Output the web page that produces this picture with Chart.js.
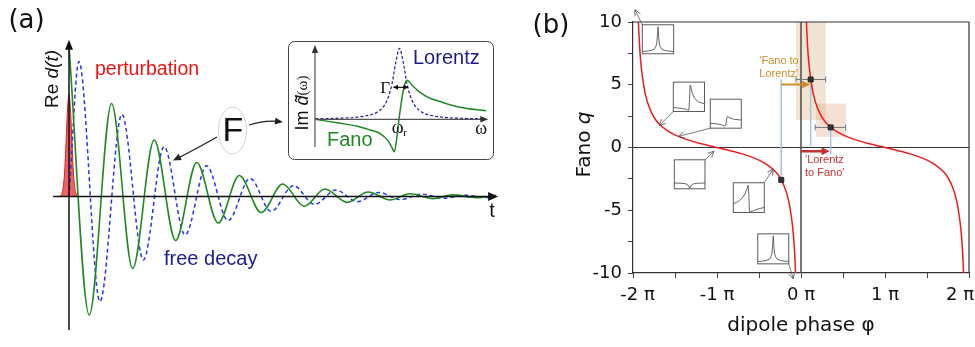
<!DOCTYPE html>
<html><head><meta charset="utf-8">
<script src="https://cdn.jsdelivr.net/npm/chart.js@4/dist/chart.umd.min.js"></script>
<style>
html,body{margin:0;padding:0;background:#fff;overflow:hidden}
#wrap{position:relative;width:975px;height:347px;background:#fff}
canvas{position:absolute}
</style></head><body>
<div id="wrap">
<canvas id="ca" width="510" height="347" style="left:0;top:0;width:510px;height:347px"></canvas>
<canvas id="ci" width="206" height="120" style="left:288px;top:41px;width:206px;height:120px"></canvas>
<canvas id="cb" width="455" height="347" style="left:520px;top:0;width:455px;height:347px"></canvas>
</div>
<script>
// ================= DATA =================
// Panel (a): free-decay oscillations, time in periods, amplitude normalised
const greenT = [0, 0.47, 0.99, 1.48, 1.98, 2.48, 2.97, 3.47, 3.96, 4.47, 4.97, 5.47, 5.95, 6.47, 6.96, 7.47, 7.93, 8.47, 8.93, 9.47, 9.93];
const greenV = [1.0, -0.79, 0.62, -0.48, 0.377, -0.293, 0.227, -0.177, 0.14, -0.107, 0.083, -0.065, 0.05, -0.039, 0.03, -0.023, 0.018, -0.014, 0.011, -0.008, 0.006];
const blueT  = [0, 0.23, 0.72, 1.23, 1.73, 2.21, 2.70, 3.20, 3.70, 4.21, 4.70, 5.22, 5.71, 6.21, 6.70, 7.21, 7.71, 8.21, 8.71, 9.21, 9.71, 9.93];
const blueV  = [0, 0.90, -0.70, 0.548, -0.423, 0.332, -0.257, 0.205, -0.161, 0.121, -0.099, 0.072, -0.052, 0.043, -0.035, 0.027, -0.021, 0.016, -0.012, 0.009, -0.007, 0];
const pulseT = [-0.23, -0.18, -0.14, -0.10, -0.06, -0.03, 0, 0.03, 0.06, 0.10, 0.14, 0.18, 0.23];
const pulseV = [0, 0.01, 0.05, 0.17, 0.42, 0.60, 0.68, 0.60, 0.42, 0.17, 0.05, 0.01, 0];
// Panel (a) inset: line shapes vs detuning (units of half width)
const lorW  = [-11.2, -8, -6, -4, -3, -2, -1.5, -1, -0.5, 0, 0.5, 1, 1.5, 2, 3, 4, 6, 8, 11.5];
const lorV  = [0.008, 0.015, 0.027, 0.06, 0.1, 0.2, 0.31, 0.5, 0.8, 1.0, 0.8, 0.5, 0.31, 0.2, 0.1, 0.06, 0.027, 0.015, 0.007];
const fanoW = [-11.27, -7.93, -5.5, -3.93, -2.6, -1.53, -1.0, -0.69, -0.4, -0.07, 0.33, 0.73, 1.04, 1.67, 2.73, 4, 5.4, 8.07, 11.53];
const fanoV = [0, -0.056, -0.1, -0.15, -0.2, -0.3, -0.4, -0.458, -0.3, 0, 0.3, 0.5, 0.55, 0.48, 0.38, 0.3, 0.25, 0.17, 0.12];
// Panel (b): Fano q vs dipole phase (phase in units of pi)
const phiLeft  = [-1.936, -1.92, -1.9, -1.87, -1.85, -1.8, -1.75, -1.7, -1.6, -1.5, -1.4, -1.3, -1.2, -1.1, -1.0, -0.9, -0.8, -0.7, -0.6, -0.5, -0.4, -0.3, -0.25, -0.2, -0.15, -0.13, -0.1, -0.08, -0.064];
const qLeft    = [10, 7.9, 6.3, 4.85, 4.15, 3.08, 2.41, 1.96, 1.38, 1.0, 0.73, 0.51, 0.32, 0.16, 0, -0.16, -0.32, -0.51, -0.73, -1.0, -1.38, -1.96, -2.41, -3.08, -4.15, -4.85, -6.3, -7.9, -10];
const phiRight = [0.064, 0.08, 0.1, 0.13, 0.15, 0.2, 0.25, 0.3, 0.4, 0.5, 0.6, 0.7, 0.8, 0.9, 1.0, 1.1, 1.2, 1.3, 1.4, 1.5, 1.6, 1.7, 1.75, 1.8, 1.85, 1.87, 1.9, 1.92, 1.936];
const qRight   = [10, 7.9, 6.3, 4.85, 4.15, 3.08, 2.41, 1.96, 1.38, 1.0, 0.73, 0.51, 0.32, 0.16, 0, -0.16, -0.32, -0.51, -0.73, -1.0, -1.38, -1.96, -2.41, -3.08, -4.15, -4.85, -6.3, -7.9, -10];
const measPhi  = [0.115, 0.353, -0.235];
const measQ    = [5.42, 1.6, -2.58];
const errLo    = [-0.06, 0.17, null];
const errHi    = [0.294, 0.532, null];
const phiTickLabels = {'-2': '\u2002-2 \u03c0', '-1': '-1 \u03c0', '0': '0 \u03c0', '1': '1 \u03c0', '2': '2 \u03c0\u2003'};
const qTickLabels   = {'-10': '-10', '-5': '-5', '0': '0', '5': '5', '10': '10'};

// ================= annotation layout (panel b, data units) =================
const shades = [
  {phi: [-0.06, 0.294], q: [2.2, 10], color: 'rgba(222,185,140,0.38)'},
  {phi: [0.18, 0.536], q: [0.85, 3.5], color: 'rgba(226,160,128,0.33)'}
];
const guideLines = [{phi: -0.235, q: [-2.58, 5.42]}, {phi: 0.115, q: [0.08, 5.42]}, {phi: 0.353, q: [-0.56, 1.6]}];
const sketchShapes = {
  lorentz:  {u: [0, 0.15, 0.3, 0.38, 0.43, 0.46, 0.48, 0.5, 0.52, 0.54, 0.57, 0.62, 0.7, 0.85, 1], v: [0.08, 0.09, 0.12, 0.16, 0.24, 0.36, 0.6, 0.93, 0.6, 0.36, 0.24, 0.16, 0.12, 0.09, 0.08]},
  fanoPos:  {u: [0, 0.15, 0.3, 0.42, 0.48, 0.5, 0.52, 0.54, 0.56, 0.6, 0.68, 0.8, 1], v: [0.13, 0.12, 0.1, 0.07, 0.04, 0.04, 0.4, 0.9, 0.85, 0.65, 0.45, 0.33, 0.26]},
  fanoSmall:{u: [0, 0.2, 0.35, 0.45, 0.5, 0.53, 0.56, 0.62, 0.75, 1], v: [0.17, 0.15, 0.12, 0.07, 0.1, 0.33, 0.4, 0.36, 0.31, 0.28]},
  dip:      {u: [0, 0.25, 0.38, 0.44, 0.48, 0.5, 0.52, 0.56, 0.62, 0.75, 1], v: [0.2, 0.19, 0.17, 0.13, 0.06, 0.01, 0.06, 0.13, 0.17, 0.19, 0.2]},
  fanoNeg:  {u: [0, 0.1, 0.2, 0.3, 0.38, 0.44, 0.48, 0.5, 0.52, 0.56, 0.65, 0.8, 1], v: [0.3, 0.34, 0.4, 0.5, 0.63, 0.8, 0.92, 0.6, 0.04, 0.03, 0.06, 0.12, 0.17]}
};
const sketchBoxes = [
  {phi: [-1.889, -1.516], q: [7.47, 9.78],   shape: 'lorentz',   from: 'tl', tip: [-1.976, 10.98]},
  {phi: [-1.520, -1.149], q: [2.87, 5.21],   shape: 'fanoPos',   from: 'bl', tip: [-1.687, 1.75]},
  {phi: [-1.080, -0.711], q: [1.54, 3.85],   shape: 'fanoSmall', from: 'bl', tip: [-1.461, 0.88]},
  {phi: [-1.508, -1.143], q: [-3.29, -0.98], shape: 'dip',       from: 'tr', tip: [-1.036, -0.30]},
  {phi: [-0.806, -0.437], q: [-5.18, -2.81], shape: 'fanoNeg',   from: 'tr', tip: [-0.330, -1.70]},
  {phi: [-0.515, -0.146], q: [-9.27, -6.88], shape: 'lorentz',   from: 'br', tip: [-0.092, -10.47]}
];

// ================= helpers =================
function mk(xs, ys) { return xs.map((v, i) => ({x: v, y: ys[i]})); }
function head(ctx, tx, ty, ang, len, hw, color, open, lw) {
  ctx.save(); ctx.translate(tx, ty); ctx.rotate(ang);
  ctx.beginPath();
  if (open) {
    ctx.moveTo(-len, -hw); ctx.lineTo(0, 0); ctx.lineTo(-len, hw);
    ctx.strokeStyle = color; ctx.lineWidth = lw || 1; ctx.stroke();
  } else {
    ctx.moveTo(0, 0); ctx.lineTo(-len, -hw); ctx.lineTo(-len, hw); ctx.closePath();
    ctx.fillStyle = color; ctx.fill();
  }
  ctx.restore();
}
function arrow(ctx, x0, y0, x1, y1, color, w, len, hw, open) {
  const a = Math.atan2(y1 - y0, x1 - x0);
  const k = open ? 0 : len * 0.7;
  ctx.beginPath(); ctx.moveTo(x0, y0); ctx.lineTo(x1 - k * Math.cos(a), y1 - k * Math.sin(a));
  ctx.strokeStyle = color; ctx.lineWidth = w; ctx.stroke();
  head(ctx, x1, y1, a, len, hw, color, open, w);
}
function mixedText(ctx, parts, cx, cy) {
  let tot = 0; parts.forEach(p => { ctx.font = p.font; p.w = ctx.measureText(p.t).width; tot += p.w; });
  let x = cx - tot / 2; ctx.textAlign = 'left'; ctx.textBaseline = 'middle';
  parts.forEach(p => { ctx.font = p.font; ctx.fillStyle = p.color || '#111'; ctx.fillText(p.t, x, cy + (p.dy || 0)); x += p.w; });
}
const baseOpts = {responsive: false, maintainAspectRatio: false, devicePixelRatio: 1, animation: false, events: []};
const noPlug = {legend: {display: false}, tooltip: {enabled: false}};

// ================= PANEL (a) =================
const pA = {
  id: 'pa',
  afterDatasetsDraw(chart) {
    const {ctx, scales: {x, y}} = chart;
    const X = v => x.getPixelForValue(v), Y = v => y.getPixelForValue(v);
    ctx.save();
    const y0 = Y(0), x0 = X(0);
    // axes
    ctx.strokeStyle = '#111'; ctx.lineWidth = 1.5;
    ctx.beginPath(); ctx.moveTo(X(-0.37), y0); ctx.lineTo(X(9.78), y0); ctx.stroke();
    head(ctx, X(9.98), y0, 0, 10, 4.5, '#111');
    ctx.beginPath(); ctx.moveTo(x0, Y(-0.89)); ctx.lineTo(x0, Y(0.98)); ctx.stroke();
    head(ctx, x0, Y(1.045), -Math.PI / 2, 10, 4, '#111');
    // labels
    ctx.fillStyle = '#111';
    ctx.font = '26px "DejaVu Sans"'; ctx.textAlign = 'center'; ctx.textBaseline = 'middle';
    ctx.fillText('(a)', 26.5, 21);
    ctx.save(); ctx.translate(52.5, 79); ctx.rotate(-Math.PI / 2);
    mixedText(ctx, [{t: 'Re ', font: '19px "Liberation Sans"'}, {t: 'd(t)', font: 'italic 19px "Liberation Sans"'}], 0, 0);
    ctx.restore();
    ctx.textAlign = 'left'; ctx.textBaseline = 'middle';
    ctx.font = '19.5px "Liberation Sans"'; ctx.fillStyle = '#ee1414'; ctx.fillText('perturbation', 95, 70);
    ctx.font = '20px "Liberation Sans"'; ctx.fillStyle = '#1c1c8a'; ctx.fillText('free decay', 164, 259);
    ctx.fillStyle = '#111'; ctx.textAlign = 'center'; ctx.font = '20px "Liberation Sans"'; ctx.fillText('t', 492, 211);
    // Fourier "F" bubble
    ctx.beginPath(); ctx.ellipse(232.5, 130.5, 14, 23.5, 0, 0, 2 * Math.PI);
    ctx.fillStyle = '#fff'; ctx.fill(); ctx.strokeStyle = '#d0d0d0'; ctx.lineWidth = 1; ctx.stroke();
    ctx.fillStyle = '#111'; ctx.font = '34px "Liberation Sans"'; ctx.textAlign = 'center'; ctx.textBaseline = 'middle';
    ctx.fillText('F', 233, 132);
    // curved arrows
    ctx.strokeStyle = '#222'; ctx.lineWidth = 1.3;
    ctx.beginPath(); ctx.moveTo(217, 137); ctx.quadraticCurveTo(196, 149, 178, 158); ctx.stroke();
    head(ctx, 173, 160.5, Math.atan2(160.5 - 149, 173 - 196), 8, 3.5, '#222');
    ctx.beginPath(); ctx.moveTo(249, 125); ctx.quadraticCurveTo(265, 120, 278, 121.5); ctx.stroke();
    head(ctx, 283, 122, Math.atan2(122 - 120, 283 - 265), 8, 3.5, '#222');
    ctx.restore();
  }
};
new Chart(document.getElementById('ca'), {
  type: 'line',
  data: {datasets: [
    {data: mk(greenT, greenV), borderColor: '#1f8a22', borderWidth: 1.6, pointRadius: 0, cubicInterpolationMode: 'monotone', fill: false},
    {data: mk(blueT, blueV), borderColor: '#2536e8', borderWidth: 1.5, borderDash: [4, 3], pointRadius: 0, cubicInterpolationMode: 'monotone', fill: false},
    {data: mk(pulseT, pulseV), borderColor: '#e01b1b', backgroundColor: 'rgba(238,70,70,0.85)', borderWidth: 1, pointRadius: 0, cubicInterpolationMode: 'monotone', fill: 'origin'}
  ]},
  options: Object.assign({}, baseOpts, {
    layout: {padding: 0},
    plugins: noPlug,
    scales: {
      x: {type: 'linear', display: false, min: -1.6047, max: 10.2558},
      y: {type: 'linear', display: false, min: -1.0033, max: 1.31}
    }
  }),
  plugins: [pA]
});

// ================= PANEL (a) inset =================
const pI = {
  id: 'pi',
  beforeDatasetsDraw(chart) {
    const {ctx} = chart;
    ctx.save();
    ctx.fillStyle = '#fff';
    ctx.beginPath(); ctx.roundRect(0.5, 0.5, 205, 118, 6); ctx.fill();
    ctx.restore();
  },
  afterDatasetsDraw(chart) {
    const {ctx, scales: {x, y}} = chart;
    const X = v => x.getPixelForValue(v), Y = v => y.getPixelForValue(v);
    ctx.save();
    ctx.strokeStyle = '#444'; ctx.lineWidth = 1;
    ctx.beginPath(); ctx.roundRect(0.5, 0.5, 205, 118, 6); ctx.stroke();
    // axes
    ctx.strokeStyle = '#555'; ctx.lineWidth = 1.2;
    ctx.beginPath(); ctx.moveTo(X(-11.27), Y(-0.39)); ctx.lineTo(X(-11.27), Y(0.96)); ctx.stroke();
    head(ctx, X(-11.27), Y(1.045), -Math.PI / 2, 8, 3.2, '#333');
    ctx.beginPath(); ctx.moveTo(X(-11.27), Y(0)); ctx.lineTo(X(11.0), Y(0)); ctx.stroke();
    head(ctx, X(11.84), Y(0), 0, 8, 3.2, '#333');
    // Gamma arrow
    const gy = Y(0.45);
    ctx.strokeStyle = '#111'; ctx.lineWidth = 1.2;
    ctx.beginPath(); ctx.moveTo(X(-0.8), gy); ctx.lineTo(X(1.13), gy); ctx.stroke();
    head(ctx, X(-0.87), gy, Math.PI, 5, 2.5, '#111');
    head(ctx, X(1.2), gy, 0, 5, 2.5, '#111');
    ctx.fillStyle = '#111'; ctx.textAlign = 'center'; ctx.textBaseline = 'middle';
    ctx.font = '17px "Liberation Serif"'; ctx.fillText('\u0393', X(-1.9), gy + 1);
    // omega labels
    ctx.font = '18px "Liberation Serif"'; ctx.fillText('\u03c9', X(-0.25), 87);
    ctx.font = '11px "Liberation Serif"'; ctx.fillText('r', X(0.75), 92);
    ctx.font = '18px "Liberation Serif"'; ctx.fillText('\u03c9', X(10.9), 88);
    // text
    ctx.textAlign = 'left';
    ctx.font = '20px "Liberation Sans"'; ctx.fillStyle = '#1c1c8a'; ctx.fillText('Lorentz', 125, 17);
    ctx.fillStyle = '#1f8a22'; ctx.fillText('Fano', 39, 99);
    ctx.save(); ctx.translate(15, 62); ctx.rotate(-Math.PI / 2);
    mixedText(ctx, [
      {t: 'Im ', font: '18px "Liberation Sans"'},
      {t: 'd\u0303', font: 'italic 18px "Liberation Sans"'},
      {t: '(\u03c9)', font: '15px "Liberation Serif"'}
    ], 0, 0);
    ctx.restore();
    ctx.restore();
  }
};
new Chart(document.getElementById('ci'), {
  type: 'line',
  data: {datasets: [
    {data: mk(fanoW, fanoV), borderColor: '#1f8a22', borderWidth: 1.5, pointRadius: 0, cubicInterpolationMode: 'monotone', fill: false},
    {data: mk(lorW, lorV), borderColor: '#1c1c8a', borderWidth: 1.2, borderDash: [3, 2], pointRadius: 0, cubicInterpolationMode: 'monotone', fill: false}
  ]},
  options: Object.assign({}, baseOpts, {
    layout: {padding: 0},
    plugins: noPlug,
    scales: {
      x: {type: 'linear', display: false, min: -14.867, max: 12.6},
      y: {type: 'linear', display: false, min: -0.587, max: 1.1028}
    }
  }),
  plugins: [pI]
});

// ================= PANEL (b) =================
const pB = {
  id: 'pb',
  beforeDatasetsDraw(chart) {
    const {ctx, chartArea: ca, scales: {x, y}} = chart;
    const X = v => x.getPixelForValue(v), Y = v => y.getPixelForValue(v);
    ctx.save();
    shades.forEach(s => {
      ctx.fillStyle = s.color;
      ctx.fillRect(X(s.phi[0]), Y(s.q[1]), X(s.phi[1]) - X(s.phi[0]), Y(s.q[0]) - Y(s.q[1]));
    });
    // zero lines
    ctx.strokeStyle = '#333'; ctx.lineWidth = 1.2;
    ctx.beginPath(); ctx.moveTo(ca.left, Y(0)); ctx.lineTo(ca.right, Y(0)); ctx.stroke();
    ctx.strokeStyle = '#555'; ctx.lineWidth = 1.6;
    ctx.beginPath(); ctx.moveTo(X(0), ca.top); ctx.lineTo(X(0), ca.bottom); ctx.stroke();
    // guide lines
    ctx.strokeStyle = '#a9c1e2'; ctx.lineWidth = 1.5;
    guideLines.forEach(g => { ctx.beginPath(); ctx.moveTo(X(g.phi), Y(g.q[0])); ctx.lineTo(X(g.phi), Y(g.q[1])); ctx.stroke(); });
    // error bars
    ctx.strokeStyle = '#777'; ctx.lineWidth = 1;
    measPhi.forEach((p, i) => {
      if (errLo[i] === null) return;
      const yy = Y(measQ[i]);
      ctx.beginPath(); ctx.moveTo(X(errLo[i]), yy); ctx.lineTo(X(errHi[i]), yy);
      ctx.moveTo(X(errLo[i]), yy - 3); ctx.lineTo(X(errLo[i]), yy + 3);
      ctx.moveTo(X(errHi[i]), yy - 3); ctx.lineTo(X(errHi[i]), yy + 3);
      ctx.stroke();
    });
    ctx.restore();
  },
  afterDatasetsDraw(chart) {
    const {ctx, chartArea: ca, scales: {x, y}} = chart;
    const X = v => x.getPixelForValue(v), Y = v => y.getPixelForValue(v);
    ctx.save();
    // frame top/right
    ctx.strokeStyle = '#333'; ctx.lineWidth = 1.2;
    ctx.beginPath(); ctx.moveTo(ca.left, ca.top); ctx.lineTo(ca.right, ca.top); ctx.lineTo(ca.right, ca.bottom); ctx.stroke();
    // transition arrows
    arrow(ctx, X(-0.235), Y(5.02), X(0.11), Y(5.02), '#cd8c28', 2, 8, 3.8, false);
    arrow(ctx, X(0.0), Y(-0.3), X(0.34), Y(-0.3), '#c83030', 2.5, 8, 4, false);
    ctx.font = '11px "Liberation Sans"'; ctx.textAlign = 'left'; ctx.textBaseline = 'middle';
    ctx.fillStyle = '#cd8c28';
    ctx.fillText("'Fano to", X(-0.496), Y(6.86));
    ctx.fillText("Lorentz'", X(-0.496), Y(5.88));
    ctx.fillStyle = '#c83030';
    ctx.fillText("'Lorentz", X(0.048), Y(-0.98));
    ctx.fillText("to Fano'", X(0.048), Y(-1.99));
    // sketch boxes
    sketchBoxes.forEach(b => {
      const l = X(b.phi[0]), r = X(b.phi[1]), t = Y(b.q[1]), bt = Y(b.q[0]);
      ctx.fillStyle = '#fff'; ctx.fillRect(l, t, r - l, bt - t);
      ctx.strokeStyle = '#5a5a5a'; ctx.lineWidth = 1; ctx.strokeRect(l, t, r - l, bt - t);
      const sh = sketchShapes[b.shape];
      ctx.beginPath();
      sh.u.forEach((u, i) => { const px = l + u * (r - l), py = bt - sh.v[i] * (bt - t); if (i) ctx.lineTo(px, py); else ctx.moveTo(px, py); });
      ctx.strokeStyle = '#555'; ctx.lineWidth = 0.9; ctx.stroke();
      const sx = b.from[1] === 'l' ? l : r, sy = b.from[0] === 't' ? t : bt;
      arrow(ctx, sx, sy, X(b.tip[0]), Y(b.tip[1]), '#555', 0.8, 6, 3, true);
    });
    ctx.restore();
  },
  afterDraw(chart) {
    const {ctx, chartArea: ca} = chart;
    ctx.save();
    ctx.save(); ctx.translate(65, (ca.top + ca.bottom) / 2 - 3); ctx.rotate(-Math.PI / 2);
    mixedText(ctx, [{t: 'Fano ', font: '20px "DejaVu Sans"'}, {t: 'q', font: 'italic 20px "DejaVu Sans"'}], 0, 0);
    ctx.restore();
    ctx.fillStyle = '#111'; ctx.font = '26px "DejaVu Sans"'; ctx.textAlign = 'center'; ctx.textBaseline = 'middle';
    ctx.fillText('(b)', 31, 26);
    ctx.restore();
  }
};
new Chart(document.getElementById('cb'), {
  type: 'line',
  data: {datasets: [
    {data: mk(measPhi, measQ), showLine: false, pointStyle: 'rect', pointRadius: 3.5, backgroundColor: '#333', borderColor: '#222', borderWidth: 1},
    {data: mk(phiLeft, qLeft), borderColor: '#ee1c1c', borderWidth: 1.5, pointRadius: 0, cubicInterpolationMode: 'monotone', fill: false},
    {data: mk(phiRight, qRight), borderColor: '#ee1c1c', borderWidth: 1.5, pointRadius: 0, cubicInterpolationMode: 'monotone', fill: false}
  ]},
  options: Object.assign({}, baseOpts, {
    layout: {padding: {left: 0, right: 6, top: 22, bottom: 0}},
    plugins: noPlug,
    scales: {
      x: {
        type: 'linear', position: 'bottom', min: -2, max: 2,
        ticks: {stepSize: 0.5, autoSkip: false, maxRotation: 0, padding: 7, color: '#111', font: {family: 'DejaVu Sans', size: 18},
          callback: v => (phiTickLabels[String(v)] !== undefined ? phiTickLabels[String(v)] : '')},
        grid: {drawOnChartArea: false, drawTicks: true, tickLength: 5, color: '#444', lineWidth: 1},
        border: {display: true, color: '#333', width: 1.2},
        title: {display: true, text: 'dipole phase \u03c6', color: '#111', font: {family: 'DejaVu Sans', size: 20}, padding: {top: 0, bottom: 9}},
        afterFit(s) { s.height = 74; s.paddingLeft = 0; s.paddingRight = 0; }
      },
      y: {
        type: 'linear', position: 'left', min: -10, max: 10,
        ticks: {stepSize: 2.5, autoSkip: false, padding: 6, color: '#111', font: {family: 'DejaVu Sans', size: 18},
          callback: v => (qTickLabels[String(v)] !== undefined ? qTickLabels[String(v)] : '')},
        grid: {drawOnChartArea: false, drawTicks: true, tickLength: 5, color: '#444', lineWidth: 1},
        border: {display: true, color: '#333', width: 1.2},
        afterFit(s) { s.width = 113; s.paddingTop = 0; s.paddingBottom = 0; }
      }
    }
  }),
  plugins: [pB]
});
</script>
</body></html>
